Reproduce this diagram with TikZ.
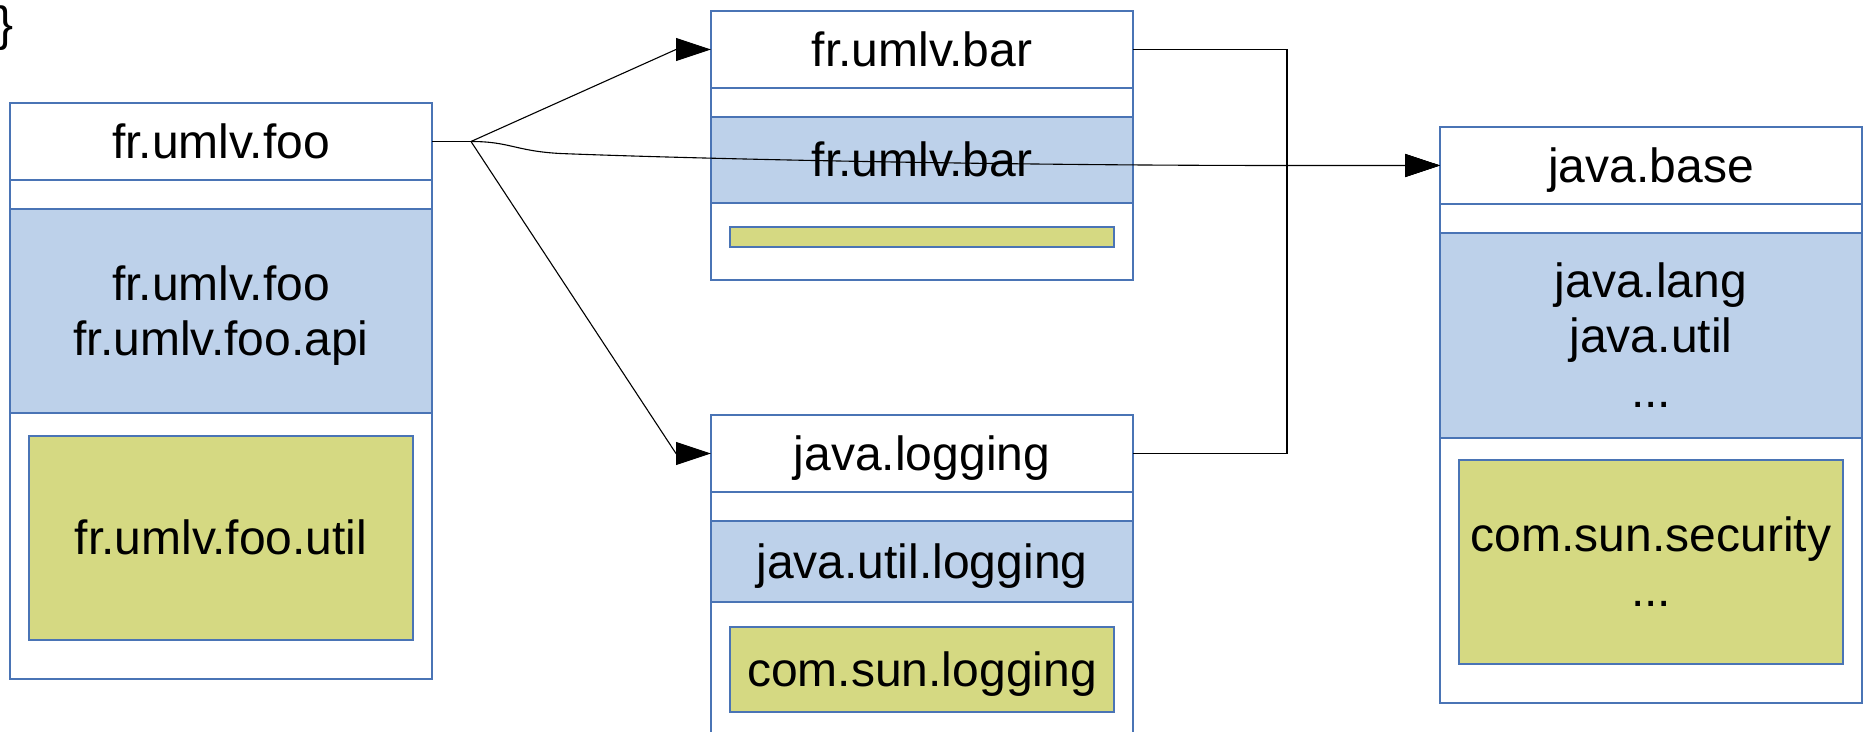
\documentclass[tikz,border=0pt]{standalone}
\usepackage{fontspec}
\setmainfont{Liberation Sans}
\usetikzlibrary{positioning,arrows.meta}
\definecolor{modline}{HTML}{4A74B5}
\definecolor{expfill}{HTML}{BDD1EA}
\definecolor{intfill}{HTML}{D5D982}
\newcommand{\lstrut}{\rule[-5.1pt]{0pt}{26.8pt}}

\begin{document}
\begin{tikzpicture}[x=0.5pt, y=-0.5pt,
  font=\fontsize{24pt}{27.5pt}\selectfont,
  every node/.style={inner sep=0pt, outer sep=0pt},
  oneline/.style={text height=21.7pt, text depth=5.1pt},
  module/.style={draw=modline, line width=0.6pt, fill=white, minimum width=211pt, anchor=north west},
  headcell/.style={draw=modline, line width=0.6pt, minimum width=211pt, minimum height=38.5pt, oneline, anchor=north},
  expcell/.style={draw=modline, line width=0.6pt, fill=expfill, minimum width=211pt, align=center},
  intcell/.style={draw=modline, line width=0.6pt, fill=intfill, minimum width=192pt, align=center},
  wire/.style={draw=black, line width=0.55pt},
  >={Triangle[length=17.5pt, width=11.5pt]}]

\useasboundingbox (0,0) rectangle (1864,732);

\node[anchor=base west] (brace) at (-3,41) {\}};

% fr.umlv.foo
\node[module, minimum height=288pt] (foo) at (10,103) {};
\node[headcell] (foohead) at (foo.north) {fr.umlv.foo};
\node[expcell, minimum height=102pt, below=14.5pt of foohead] (fooexp) {\lstrut fr.umlv.foo\\\lstrut fr.umlv.foo.api};
\node[intcell, oneline, minimum height=102pt, below=11.5pt of fooexp] (fooint) {fr.umlv.foo.util};

% fr.umlv.bar
\node[module, minimum height=134.5pt] (bar) at (711,11) {};
\node[headcell] (barhead) at (bar.north) {fr.umlv.bar};
\node[expcell, oneline, minimum height=43pt, below=14.5pt of barhead] (barexp) {fr.umlv.bar};
\node[intcell, minimum height=10pt, below=12pt of barexp] (barint) {};

% java.logging
\node[module, minimum height=175pt] (log) at (711,415) {};
\node[headcell] (loghead) at (log.north) {java.logging};
\node[expcell, oneline, minimum height=40.5pt, below=14.5pt of loghead] (logexp) {java.util.logging};
\node[intcell, oneline, minimum height=42.5pt, below=12.5pt of logexp] (logint) {com.sun.logging};

% java.base
\node[module, minimum height=288pt] (base) at (1440,127) {};
\node[headcell] (basehead) at (base.north) {java.base};
\node[expcell, minimum height=102.5pt, below=14.5pt of basehead] (baseexp) {\lstrut java.lang\\\lstrut java.util\\\lstrut ...};
\node[intcell, minimum height=102pt, below=11pt of baseexp] (baseint) {\lstrut com.sun.security\\\lstrut ...};

% requires
\coordinate (fork) at (471,141.5);
\coordinate (bend) at (1287,165.5);
\draw[wire] (foohead.east) -- (fork);
\draw[wire,->] (fork) -- ([xshift=-17.5pt]barhead.west) -- (barhead.west);
\draw[wire,->] (fork) -- ([xshift=-17.5pt]loghead.west) -- (loghead.west);
\draw[wire,->] (fork) .. controls (510,141.5) and (515,151) .. (560,153.5)
  .. controls (700,159) and (1000,165.5) .. (bend) -- (basehead.west);
\draw[wire,->] (barhead.east) -| (bend) -- (basehead.west);
\draw[wire,->] (loghead.east) -| (bend) -- (basehead.west);

\end{tikzpicture}
\end{document}
